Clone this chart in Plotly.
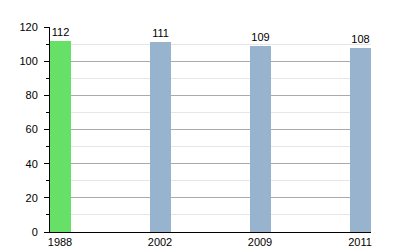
import plotly.graph_objects as go

years = ["1988", "2002", "2009", "2011"]
values = [112, 111, 109, 108]
colors = ["#66e066", "#97b3cd", "#97b3cd", "#97b3cd"]

fig = go.Figure(go.Bar(
    x=years, y=values, marker_color=colors, marker_line_width=0,
    width=0.21, text=[str(v) for v in values], textposition="outside",
    cliponaxis=False, textfont=dict(size=11, color="#000"),
))
fig.update_layout(
    width=400, height=250, margin=dict(l=50, r=29, t=27, b=18),
    paper_bgcolor="white", plot_bgcolor="white", showlegend=False,
    font=dict(family="Liberation Sans, Arial, sans-serif", size=11, color="#000"),
    bargap=0,
)
fig.update_xaxes(type="category", range=[-0.1, 3.11], showline=True, linecolor="#000",
                 linewidth=1, ticks="", showgrid=False, tickfont=dict(size=11, color="#000"),
                 automargin=False)
fig.update_yaxes(range=[0, 120], dtick=20, showline=True, linecolor="#000", linewidth=1,
                 ticks="outside", ticklen=5, tickcolor="#000", showgrid=True,
                 gridcolor="#aaaaaa", gridwidth=1, zeroline=False, automargin=False,
                 ticklabelstandoff=4,
                 minor=dict(dtick=10, ticks="outside", ticklen=3, tickcolor="#000",
                            showgrid=True, gridcolor="#e6e6e6"),
                 tickfont=dict(size=11, color="#000"))
fig.write_html("out.html")
